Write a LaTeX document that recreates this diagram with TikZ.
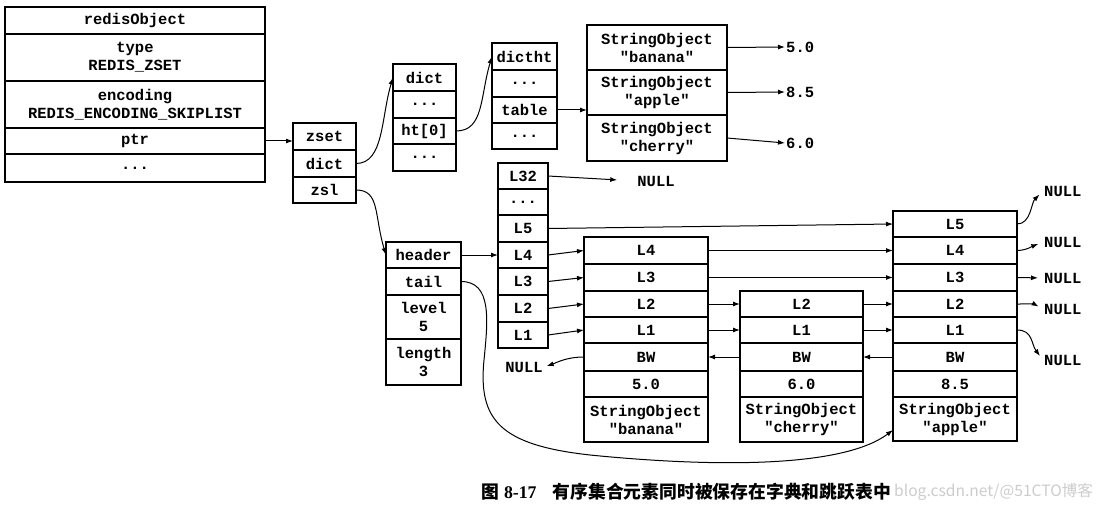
\documentclass[tikz,border=0pt]{standalone}
\usepackage{fontspec}
\usetikzlibrary{arrows.meta,calc}
\newfontfamily\monofont{Liberation Mono}
\newfontfamily\cjkfont{Noto Sans CJK SC}
\newfontfamily\capserif{Liberation Serif}
\newcommand\cellfont{\monofont\bfseries\fontsize{15.5}{18}\selectfont}
\tikzset{
  cell/.style={draw, line width=1.5pt, inner sep=0pt, outer sep=0pt, anchor=north west, align=center, font=\cellfont},
  arr/.style={-{Latex[length=7pt,width=5pt]}, line width=1pt},
  lbl/.style={font=\cellfont, inner sep=1pt},
}
\begin{document}
\begin{tikzpicture}[x=1pt,y=-1pt]
\useasboundingbox (0,0) rectangle (1098,508);
% redisObject
\node[cell, minimum width=260pt, minimum height=27pt] (ro1) at (5,7) {redisObject};
\node[cell, minimum width=260pt, minimum height=47pt] (ro2) at (5,34) {type\\REDIS\_ZSET};
\node[cell, minimum width=260pt, minimum height=47pt] (ro3) at (5,81) {encoding\\REDIS\_ENCODING\_SKIPLIST};
\node[cell, minimum width=260pt, minimum height=26pt] (ro4) at (5,128) {ptr};
\node[cell, minimum width=260pt, minimum height=28pt] (ro5) at (5,154) {...};
% zset
\node[cell, minimum width=63pt, minimum height=27pt] (zs1) at (293,123) {zset};
\node[cell, minimum width=63pt, minimum height=27pt] (zs2) at (293,150) {dict};
\node[cell, minimum width=63pt, minimum height=26pt] (zs3) at (293,177) {zsl};
% dict
\node[cell, minimum width=63pt, minimum height=27pt] (d1) at (393,64) {dict};
\node[cell, minimum width=63pt, minimum height=27pt] (d2) at (393,91) {...};
\node[cell, minimum width=63pt, minimum height=26pt] (d3) at (393,118) {ht[0]};
\node[cell, minimum width=63pt, minimum height=27pt] (d4) at (393,144) {...};
% dictht
\node[cell, minimum width=65pt, minimum height=27pt] (t1) at (492,43) {dictht};
\node[cell, minimum width=65pt, minimum height=27pt] (t2) at (492,70) {...};
\node[cell, minimum width=65pt, minimum height=26pt] (t3) at (492,97) {table};
\node[cell, minimum width=65pt, minimum height=26pt] (t4) at (492,123) {...};
% string objects in dict
\node[cell, minimum width=140pt, minimum height=45pt] (s1) at (587,25) {StringObject\\"banana"};
\node[cell, minimum width=140pt, minimum height=45pt] (s2) at (587,70) {StringObject\\"apple"};
\node[cell, minimum width=140pt, minimum height=46pt] (s3) at (587,115) {StringObject\\"cherry"};
\node[lbl, anchor=west] (v1) at (785,47) {5.0};
\node[lbl, anchor=west] (v2) at (785,92) {8.5};
\node[lbl, anchor=west] (v3) at (785,143) {6.0};
% skiplist header levels
\node[cell, minimum width=50pt, minimum height=26pt] (h1) at (498,163) {L32};
\node[cell, minimum width=50pt, minimum height=26pt] (h2) at (498,189) {...};
\node[cell, minimum width=50pt, minimum height=27pt] (h3) at (498,215) {L5};
\node[cell, minimum width=50pt, minimum height=26pt] (h4) at (498,242) {L4};
\node[cell, minimum width=50pt, minimum height=27pt] (h5) at (498,268) {L3};
\node[cell, minimum width=50pt, minimum height=27pt] (h6) at (498,295) {L2};
\node[cell, minimum width=50pt, minimum height=26pt] (h7) at (498,322) {L1};
% zskiplist
\node[cell, minimum width=75pt, minimum height=26pt] (hd) at (386,242) {header};
\node[cell, minimum width=75pt, minimum height=27pt] (tl) at (386,268) {tail};
\node[cell, minimum width=75pt, minimum height=44pt] (lv) at (386,295) {level\\5};
\node[cell, minimum width=75pt, minimum height=46pt] (ln) at (386,339) {length\\3};
% node banana
\node[cell, minimum width=124pt, minimum height=27pt] (a1) at (584,237) {L4};
\node[cell, minimum width=124pt, minimum height=27pt] (a2) at (584,264) {L3};
\node[cell, minimum width=124pt, minimum height=26pt] (a3) at (584,291) {L2};
\node[cell, minimum width=124pt, minimum height=26pt] (a4) at (584,317) {L1};
\node[cell, minimum width=124pt, minimum height=28pt] (a5) at (584,343) {BW};
\node[cell, minimum width=124pt, minimum height=26pt] (a6) at (584,371) {5.0};
\node[cell, minimum width=124pt, minimum height=45pt] (a7) at (584,397) {StringObject\\"banana"};
% node cherry
\node[cell, minimum width=123pt, minimum height=26pt] (b3) at (740,291) {L2};
\node[cell, minimum width=123pt, minimum height=26pt] (b4) at (740,317) {L1};
\node[cell, minimum width=123pt, minimum height=28pt] (b5) at (740,343) {BW};
\node[cell, minimum width=123pt, minimum height=26pt] (b6) at (740,371) {6.0};
\node[cell, minimum width=123pt, minimum height=45pt] (b7) at (740,397) {StringObject\\"cherry"};
% node apple
\node[cell, minimum width=124pt, minimum height=26pt] (c0) at (893,211) {L5};
\node[cell, minimum width=124pt, minimum height=27pt] (c1) at (893,237) {L4};
\node[cell, minimum width=124pt, minimum height=27pt] (c2) at (893,264) {L3};
\node[cell, minimum width=124pt, minimum height=26pt] (c3) at (893,291) {L2};
\node[cell, minimum width=124pt, minimum height=26pt] (c4) at (893,317) {L1};
\node[cell, minimum width=124pt, minimum height=28pt] (c5) at (893,343) {BW};
\node[cell, minimum width=124pt, minimum height=26pt] (c6) at (893,371) {8.5};
\node[cell, minimum width=124pt, minimum height=44pt] (c7) at (893,397) {StringObject\\"apple"};
% NULL labels
\node[lbl] (n32) at (656,181) {NULL};
\node[lbl] (nbw) at (524,367) {NULL};
\node[lbl, anchor=west] (r5) at (1043,191) {NULL};
\node[lbl, anchor=west] (r4) at (1043,242) {NULL};
\node[lbl, anchor=west] (r3) at (1043,278) {NULL};
\node[lbl, anchor=west] (r2) at (1043,309) {NULL};
\node[lbl, anchor=west] (r1) at (1043,360) {NULL};
% connectors
\draw[arr] (ro4.east) -- (ro4.east -| zs1.west);
\draw[arr] (zs2.east) .. controls +(28,0) and +(-12,40) .. (d1.west);
\draw[arr] (d3.east) .. controls +(28,0) and +(-12,40) .. (t1.west);
\draw[arr] (t3.east) -- (t3.east -| s2.west);
\draw[arr] (s1.east) -- (v1.west);
\draw[arr] (s2.east) -- (v2.west);
\draw[arr] (s3.east) -- (v3.west);
\draw[arr] (zs3.east) .. controls +(24,0) and +(-12,-40) .. (hd.west);
\draw[arr] (hd.east) -- (h4.west);
\draw[arr, shorten >=19pt] (h1.east) -- (n32.west);
\draw[arr] (h3.east) -- (c0.west);
\draw[arr] (h4.east) -- (a1.west);
\draw[arr] (h5.east) -- (a2.west);
\draw[arr] (h6.east) -- (a3.west);
\draw[arr] (h7.east) -- (a4.west);
\draw[arr] (a1.east) -- (c1.west);
\draw[arr] (a2.east) -- (c2.west);
\draw[arr] (a3.east) -- (b3.west);
\draw[arr] (a4.east) -- (b4.west);
\draw[arr] (b3.east) -- (c3.west);
\draw[arr] (b4.east) -- (c4.west);
\draw[arr] (c5.west) -- (b5.east);
\draw[arr] (b5.west) -- (a5.east);
\draw[arr, shorten >=3pt] (a5.west) .. controls +(-18,0) and +(12,-4) .. (nbw.east);
\draw[arr, shorten >=5pt] (c0.east) .. controls +(14,0) and +(-12,12) .. (r5.west);
\draw[arr, shorten >=5pt] (c1.east) .. controls +(9,0) and +(-10,4) .. (r4.west);
\draw[arr, shorten >=5pt] (c2.east) -- (r3.west);
\draw[arr, shorten >=5pt] (c3.east) .. controls +(9,0) and +(-9,-5) .. (r2.west);
\draw[arr, shorten >=5pt] (c4.east) .. controls +(16,0) and +(-12,-16) .. (r1.west);
\draw[arr] (tl.east) .. controls +(31,0) and (488,320) .. (484,360)
  .. controls (478,420) and (500,445) .. (590,455)
  .. controls (700,466) and (840,470) .. ($(c7.west)!0.5!(c7.south west)$);
% caption
\node[anchor=west, inner sep=0pt, font=\cjkfont\bfseries\fontsize{17.8}{17.8}\selectfont] (cap) at (481,492)
  {图\hspace{5pt}{\capserif\bfseries 8-17}\hspace{16pt}有序集合元素同时被保存在字典和跳跃表中};
\node[anchor=west, inner sep=0pt, text=black!20, font=\cjkfont\fontsize{15.6}{15.6}\selectfont] (wm) at (894,492) {blog.csdn.net/@51CTO博客};
\end{tikzpicture}
\end{document}
